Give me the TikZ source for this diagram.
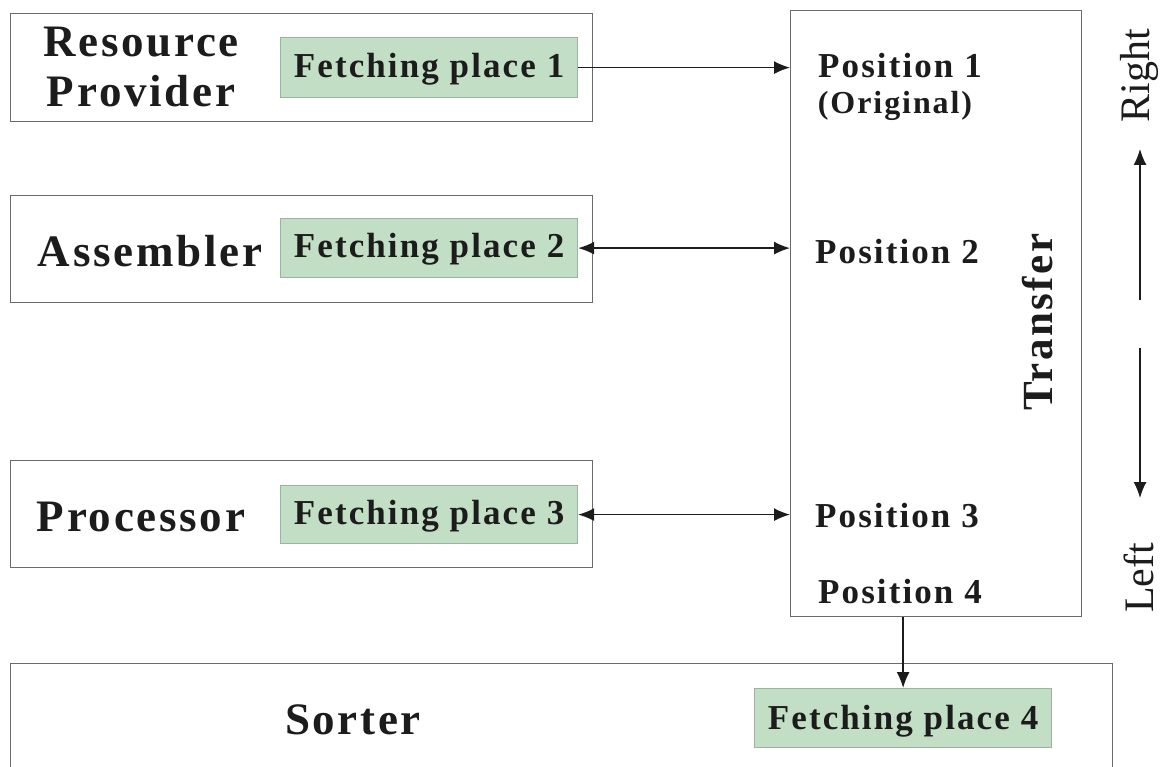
\documentclass[tikz,border=0pt]{standalone}
\usepackage{fontspec}
\setmainfont{Liberation Serif}
\newfontfamily\lblfont[LetterSpace=6]{Liberation Serif}
\usetikzlibrary{arrows.meta}
\definecolor{gfill}{HTML}{C2DEC5}
\definecolor{gedge}{HTML}{9DB39F}
\definecolor{bedge}{HTML}{6A6A6A}
\definecolor{ink}{HTML}{1C1C1C}
\tikzset{
  box/.style={draw=bedge, line width=1.4pt, fill=white, anchor=north west, inner sep=0pt},
  gbox/.style={draw=gedge, line width=1.2pt, fill=gfill, anchor=north west, inner sep=0pt},
  big/.style={font=\lblfont\bfseries\fontsize{45}{51}\selectfont, text=ink, inner sep=0pt},
  mid/.style={font=\lblfont\bfseries\fontsize{35}{40}\selectfont, text=ink, inner sep=0pt},
  small/.style={font=\lblfont\bfseries\fontsize{32}{36}\selectfont, text=ink, inner sep=0pt},
  side/.style={font=\fontsize{42}{46}\selectfont, text=ink, inner sep=0pt, rotate=90},
  conn/.style={draw=ink, line width=1.5pt, -{Latex[length=16pt,width=13pt]}},
  conn2/.style={draw=ink, line width=1.5pt, {Latex[length=16pt,width=13pt]}-{Latex[length=16pt,width=13pt]}}
}
\begin{document}
\begin{tikzpicture}[x=1pt,y=-1pt]
\useasboundingbox (0,0) rectangle (1161,767);
\clip (0,0) rectangle (1161,767);
% boxes
\node[box, minimum width=582pt, minimum height=108pt] (rp) at (10,13) {};
\node[box, minimum width=582pt, minimum height=107pt] (as) at (10,195) {};
\node[box, minimum width=582pt, minimum height=107pt] (pr) at (10,460) {};
\node[box, minimum width=291pt, minimum height=606pt] (tr) at (790,10) {};
\node[box, minimum width=1102pt, minimum height=130pt] (so) at (10,663) {};
% green boxes
\node[gbox, minimum width=297pt, minimum height=60pt] (g1) at (280,37) {};
\node[gbox, minimum width=297pt, minimum height=59pt] (g2) at (280,218) {};
\node[gbox, minimum width=297pt, minimum height=58pt] (g3) at (280,485) {};
\node[gbox, minimum width=297pt, minimum height=59pt] (g4) at (754,688) {};
% labels
\node[big, anchor=base] (trp1) at (141,57) {Resource};
\node[big, anchor=base] (trp2) at (141,107) {Provider};
\node[big, anchor=base] (tas) at (150,266) {Assembler};
\node[big, anchor=base] (tpr) at (141,531) {Processor};
\node[big, anchor=base] (tso) at (353,734) {Sorter};
\node[mid, anchor=base] (tg1) at (g1.center |- 0,78) {Fetching place 1};
\node[mid, anchor=base] (tg2) at (g2.center |- 0,258) {Fetching place 2};
\node[mid, anchor=base] (tg3) at (g3.center |- 0,524) {Fetching place 3};
\node[mid, anchor=base] (tg4) at (g4.center |- 0,729) {Fetching place 4};
\node[mid, anchor=base] (tp1) at (900,78) {Position 1};
\node[small, anchor=base] (tor) at (895,114) {(Original)};
\node[mid, anchor=base] (tp2) at (897,264) {Position 2};
\node[mid, anchor=base] (tp3) at (897,527) {Position 3};
\node[mid, anchor=base] (tp4) at (900,603) {Position 4};
\node[big, rotate=90, font=\lblfont\bfseries\fontsize{43}{48}\selectfont] (ttr) at (1038,322) {Transfer};
\node[side] (tright) at (1139,76) {Right};
\node[side] (tleft) at (1139,578) {Left};
% connectors
\draw[conn] (g1.east) -- (g1.east -| tr.west);
\draw[conn2] (g2.east) -- (g2.east -| tr.west);
\draw[conn2] (g3.east) -- (g3.east -| tr.west);
\draw[conn] (g4.north |- tr.south) -- (g4.north);
% side arrows
\coordinate (ru0) at (1140,300);
\coordinate (ru1) at (1140,149);
\coordinate (rd0) at (1140,348);
\coordinate (rd1) at (1140,498);
\draw[conn, line width=1.3pt] (ru0) -- (ru1);
\draw[conn, line width=1.3pt] (rd0) -- (rd1);
\end{tikzpicture}
\end{document}
